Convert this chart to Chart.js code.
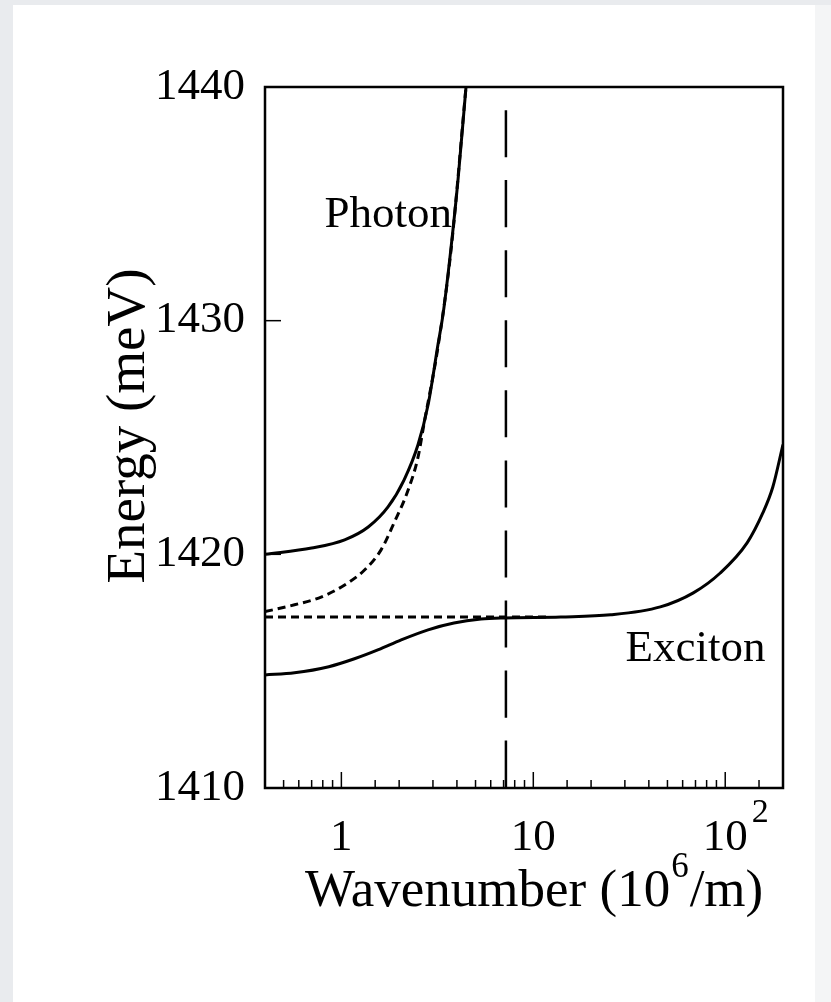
<!DOCTYPE html>
<html>
<head>
<meta charset="utf-8">
<script src="https://cdn.jsdelivr.net/npm/chart.js@4/dist/chart.umd.min.js"></script>
<style>
  html, body { margin: 0; padding: 0; }
  body { width: 831px; height: 1002px; background: #e9ebee; position: relative; overflow: hidden; }
  #card { position: absolute; left: 13px; top: 5px; width: 802px; height: 997px; background: #ffffff; }
  #edge { position: absolute; left: 815px; top: 5px; width: 16px; height: 997px; background: #f4f5f6; }
  #c { position: absolute; left: 0; top: 0; }
</style>
</head>
<body>
<div id="card"></div>
<div id="edge"></div>
<canvas id="c" width="831" height="1002"></canvas>
<script>
// ---- data ----
const upperK = [0.4, 0.7, 1.04, 1.38, 1.75, 2.12, 2.51, 2.83, 3.19, 3.39, 3.73, 4.05, 4.46];
const upperE = [1420.0, 1420.27, 1420.62, 1421.17, 1422.03, 1423.18, 1424.7, 1426.4, 1429.0, 1430.3, 1433.15, 1436.0, 1440.0];

const photonK = [0.4, 0.57, 0.79, 1.04, 1.32, 1.61, 1.88, 2.23, 2.51, 2.70, 3.19, 3.73, 4.46];
const photonE = [1417.55, 1417.84, 1418.18, 1418.69, 1419.33, 1420.19, 1421.34, 1422.76, 1424.17, 1425.62, 1428.9, 1433.05, 1440.0];

const excitonK = [0.4, 12];
const excitonE = [1417.32, 1417.32];

const lowerK = [0.4, 0.57, 0.86, 1.17, 1.56, 2.05, 2.83, 3.86, 5.34, 7.03, 13.9, 25.3, 45.9, 68.2, 94.2, 130, 157, 177, 200];
const lowerE = [1414.84, 1414.93, 1415.19, 1415.53, 1415.92, 1416.34, 1416.77, 1417.06, 1417.23, 1417.28, 1417.32, 1417.41, 1417.75, 1418.35, 1419.2, 1420.49, 1421.77, 1422.88, 1424.7];

const crossK = [7.2, 7.2];
const crossE = [1439, 1410];

const yTickValues = [1410, 1420, 1430, 1440];
const xLabelValues = [1, 10, 100];
const xLabelTexts = ['1', '10', '10'];
const xLabelSup = ['', '', '2'];

const labelTexts = ['Photon', 'Exciton'];
const labelK = [0.816, 30.2];
const labelE = [1434.0, 1415.44];

const xTitle = ['Wavenumber (10', '6', '/m)'];
const yTitle = 'Energy (meV)';

// ---- build ----
const zip = (a, b) => a.map((v, i) => ({x: v, y: b[i]}));
const SERIF = '"Liberation Serif", "Times New Roman", serif';

const ds = (label, k, e, dash, w) => ({
  label, data: zip(k, e), borderColor: '#000', borderWidth: w,
  borderDash: dash, pointRadius: 0, fill: false,
  cubicInterpolationMode: 'monotone'
});

const decor = {
  id: 'decor',
  afterDraw(chart) {
    const {ctx, chartArea: a, scales: {x, y}} = chart;
    ctx.save();
    ctx.strokeStyle = '#000';
    ctx.fillStyle = '#000';
    // frame
    ctx.lineWidth = 2.5;
    ctx.strokeRect(a.left, a.top, a.right - a.left, a.bottom - a.top);
    // y ticks inward
    ctx.lineWidth = 1.5;
    yTickValues.forEach(v => {
      const py = y.getPixelForValue(v);
      if (py > a.top + 1 && py < a.bottom - 1) {
        ctx.beginPath(); ctx.moveTo(a.left, py); ctx.lineTo(a.left + 16, py); ctx.stroke();
      }
    });
    // x ticks inward (major/minor from log scale ticks)
    x.ticks.forEach(t => {
      const px = x.getPixelForValue(t.value);
      if (px <= a.left + 1 || px >= a.right - 1) return;
      const lg = Math.log10(t.value);
      const major = Math.abs(lg - Math.round(lg)) < 1e-9;
      const len = major ? 16 : 8;
      ctx.beginPath(); ctx.moveTo(px, a.bottom); ctx.lineTo(px, a.bottom - len); ctx.stroke();
    });
    // superscripts on x tick labels
    ctx.textBaseline = 'alphabetic';
    ctx.textAlign = 'left';
    xLabelValues.forEach((v, i) => {
      if (!xLabelSup[i]) return;
      ctx.font = '45px ' + SERIF;
      const w = ctx.measureText(xLabelTexts[i]).width;
      const px = x.getPixelForValue(v);
      ctx.font = '34px ' + SERIF;
      ctx.fillText(xLabelSup[i], px + w / 2 + 4, a.bottom + 34);
    });
    // annotation labels
    ctx.font = '45px ' + SERIF;
    labelTexts.forEach((s, i) => {
      ctx.fillText(s, x.getPixelForValue(labelK[i]), y.getPixelForValue(labelE[i]));
    });
    // x title with superscript
    let tx = 305;
    const ty = a.bottom + 118;
    ctx.font = '53px ' + SERIF;
    ctx.fillText(xTitle[0], tx, ty);
    tx += ctx.measureText(xTitle[0]).width + 1;
    ctx.font = '35px ' + SERIF;
    ctx.fillText(xTitle[1], tx, ty - 29);
    tx += ctx.measureText(xTitle[1]).width + 1;
    ctx.font = '53px ' + SERIF;
    ctx.fillText(xTitle[2], tx, ty);
    // y title
    ctx.save();
    ctx.translate(144, 426);
    ctx.rotate(-Math.PI / 2);
    ctx.textAlign = 'center';
    ctx.font = '55px ' + SERIF;
    ctx.fillText(yTitle, 0, 0);
    ctx.restore();
    ctx.restore();
  }
};

new Chart(document.getElementById('c'), {
  type: 'line',
  data: {
    datasets: [
      ds('Upper polariton', upperK, upperE, [], 3),
      ds('Photon', photonK, photonE, [8, 5], 3),
      ds('Exciton', excitonK, excitonE, [8, 5], 3),
      ds('Lower polariton', lowerK, lowerE, [], 3),
      ds('Crossing', crossK, crossE, [47, 23], 2.5)
    ]
  },
  options: {
    responsive: false,
    animation: false,
    events: [],
    layout: { padding: { left: 0, top: 87, right: 48, bottom: 0 } },
    plugins: { legend: { display: false }, tooltip: { enabled: false } },
    scales: {
      x: {
        type: 'logarithmic', min: 0.4, max: 200,
        grid: { display: false, drawTicks: false },
        border: { display: false },
        afterFit: s => { s.height = 214; },
        ticks: {
          autoSkip: false, maxRotation: 0, padding: 23, color: '#000',
          font: { family: SERIF, size: 45 },
          callback: v => { const i = xLabelValues.indexOf(v); return i >= 0 ? xLabelTexts[i] : ''; }
        }
      },
      y: {
        type: 'linear', min: 1410, max: 1440,
        grid: { display: false, drawTicks: false },
        border: { display: false },
        afterFit: s => { s.width = 265; },
        afterBuildTicks: s => { s.ticks = yTickValues.map(v => ({value: v})); },
        ticks: {
          padding: 20, color: '#000',
          font: { family: SERIF, size: 45 },
          callback: v => String(v)
        }
      }
    }
  },
  plugins: [decor]
});
</script>
</body>
</html>
